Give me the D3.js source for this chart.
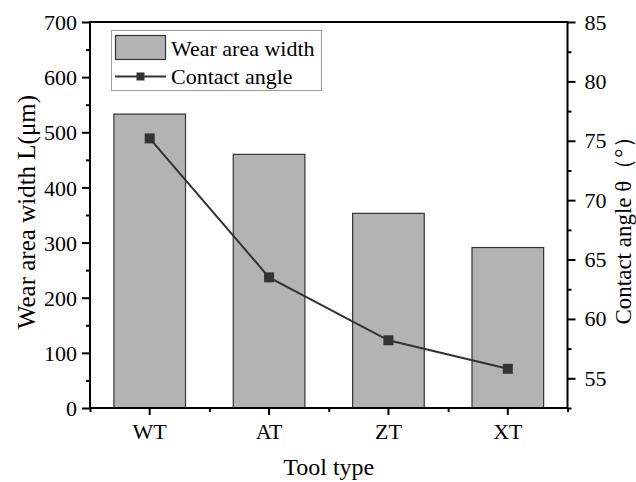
<!DOCTYPE html>
<html>
<head>
<meta charset="utf-8">
<script src="https://cdn.jsdelivr.net/npm/d3@7/dist/d3.min.js"></script>
<style>
  html, body { margin: 0; padding: 0; background: #fff; }
  svg { display: block; }
  text { font-family: "Liberation Serif", "Times New Roman", serif; fill: #000; }
</style>
</head>
<body>
<svg id="chart" width="636" height="482"></svg>
<script>
// Tool types and measured values
const categories = ["WT", "AT", "ZT", "XT"];
const wearWidth = [533, 460, 353, 291];          // wear area width L (μm)
const contactAngle = [75.2, 63.5, 58.2, 55.8];   // contact angle θ (°)

const leftTicks = [0, 100, 200, 300, 400, 500, 600, 700];
const leftMinor = [50, 150, 250, 350, 450, 550, 650];
const rightTicks = [55, 60, 65, 70, 75, 80, 85];
const rightMinor = [52.5, 57.5, 62.5, 67.5, 72.5, 77.5, 82.5];

const seriesNames = ["Wear area width", "Contact angle"];

const svg = d3.select("#chart");
const L = 90, R = 567.5, T = 22, B = 408;

const x = d3.scaleBand().domain(categories).range([L, R]).paddingInner(0).paddingOuter(0);
const yL = d3.scaleLinear().domain([0, 700]).range([B, T]);
const yR = d3.scaleLinear().domain([52.5, 85]).range([B, T]);

const barFill = "#b3b3b3";
const dark = "#333333";
const bw = x.bandwidth() * 0.6;

// Bars
svg.append("g").selectAll("rect")
  .data(categories)
  .join("rect")
  .attr("x", (d) => x(d) + (x.bandwidth() - bw) / 2)
  .attr("y", (d, i) => yL(wearWidth[i]))
  .attr("width", bw)
  .attr("height", (d, i) => B - yL(wearWidth[i]))
  .attr("fill", barFill)
  .attr("stroke", dark)
  .attr("stroke-width", 1.2);

// Contact-angle line
const line = d3.line()
  .x((d, i) => x(categories[i]) + x.bandwidth() / 2)
  .y((d) => yR(d));
svg.append("path")
  .datum(contactAngle)
  .attr("d", line)
  .attr("fill", "none")
  .attr("stroke", dark)
  .attr("stroke-width", 2);
svg.append("g").selectAll("rect")
  .data(contactAngle)
  .join("rect")
  .attr("x", (d, i) => x(categories[i]) + x.bandwidth() / 2 - 5)
  .attr("y", (d) => yR(d) - 5)
  .attr("width", 10)
  .attr("height", 10)
  .attr("fill", dark);

// Axes
function styleAxis(g) {
  g.select(".domain").remove();
  g.selectAll(".tick line").attr("stroke", "#000").attr("stroke-width", 2);
  g.selectAll(".tick text").style("font-size", "22px");
}

// left
svg.append("g").attr("transform", `translate(${L},0)`)
  .call(d3.axisLeft(yL).tickValues(leftTicks).tickSize(8).tickPadding(5).tickFormat(d3.format("d")))
  .call(styleAxis)
  .call((g) => g.selectAll(".tick text").attr("dy", "0.35em"));
svg.append("g").attr("transform", `translate(${L},0)`)
  .call(d3.axisLeft(yL).tickValues(leftMinor).tickSize(4).tickFormat(""))
  .call(styleAxis);

// right
svg.append("g").attr("transform", `translate(${R},0)`)
  .call(d3.axisRight(yR).tickValues(rightTicks).tickSize(8).tickPadding(9).tickFormat(d3.format("d")))
  .call(styleAxis);
svg.append("g").attr("transform", `translate(${R},0)`)
  .call(d3.axisRight(yR).tickValues(rightMinor).tickSize(4).tickFormat(""))
  .call(styleAxis);

// bottom
svg.append("g").attr("transform", `translate(0,${B})`)
  .call(d3.axisBottom(x).tickSize(7).tickPadding(8))
  .call(styleAxis);
const xBounds = d3.scaleLinear().domain([0, categories.length]).range([L, R]);
svg.append("g").attr("transform", `translate(0,${B})`)
  .call(d3.axisBottom(xBounds).tickValues(d3.range(categories.length + 1)).tickSize(4).tickFormat(""))
  .call(styleAxis);

// Frame
svg.append("rect")
  .attr("x", L).attr("y", T)
  .attr("width", R - L).attr("height", B - T)
  .attr("fill", "none")
  .attr("stroke", "#000")
  .attr("stroke-width", 2);

// Axis titles
svg.append("text")
  .attr("transform", "translate(35,212) rotate(-90)")
  .attr("text-anchor", "middle")
  .style("font-size", "25px")
  .text("Wear area width L(μm)");

svg.append("text")
  .attr("transform", "translate(631,225) rotate(-90)")
  .attr("text-anchor", "middle")
  .style("font-size", "23px")
  .text("Contact angle θ（°）");

svg.append("text")
  .attr("x", (L + R) / 2)
  .attr("y", 475)
  .attr("text-anchor", "middle")
  .style("font-size", "24px")
  .text("Tool type");

// Legend
const lg = svg.append("g");
lg.append("rect")
  .attr("x", 111.5).attr("y", 30.5)
  .attr("width", 210).attr("height", 60)
  .attr("fill", "#fff")
  .attr("stroke", "#9a9a9a")
  .attr("stroke-width", 1);
lg.append("rect")
  .attr("x", 115.5).attr("y", 35.5)
  .attr("width", 50).attr("height", 24)
  .attr("fill", barFill)
  .attr("stroke", dark)
  .attr("stroke-width", 1.2);
lg.append("line")
  .attr("x1", 115).attr("x2", 166)
  .attr("y1", 76.5).attr("y2", 76.5)
  .attr("stroke", dark)
  .attr("stroke-width", 2);
lg.append("rect")
  .attr("x", 136.5).attr("y", 72.5)
  .attr("width", 8).attr("height", 8)
  .attr("fill", dark);
lg.selectAll("text.leg")
  .data(seriesNames)
  .join("text")
  .attr("class", "leg")
  .attr("x", 171)
  .attr("y", (d, i) => 56 + i * 28)
  .style("font-size", "22px")
  .text((d) => d);
</script>
</body>
</html>
